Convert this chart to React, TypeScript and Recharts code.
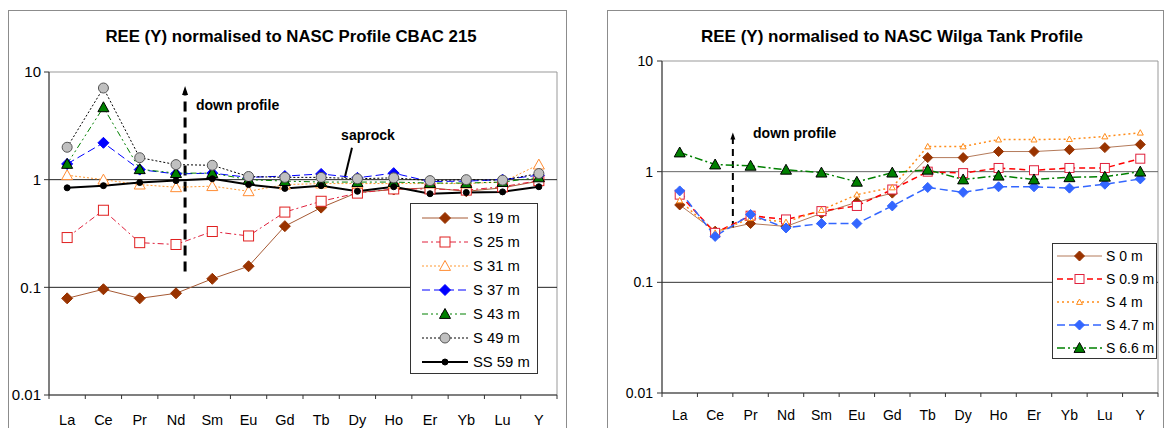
import React from "react";
import {
  LineChart,
  Line,
  XAxis,
  YAxis,
  ReferenceLine,
  ReferenceDot,
  ReferenceArea,
  Legend,
} from "recharts";

const elements = ["La", "Ce", "Pr", "Nd", "Sm", "Eu", "Gd", "Tb", "Dy", "Ho", "Er", "Yb", "Lu", "Y"];

// CBAC 215 profile, NASC normalised
const cbacS19 = [0.079, 0.096, 0.079, 0.088, 0.12, 0.157, 0.37, 0.55, 0.76, 0.81, 0.84, 0.78, 0.84, 0.97];
const cbacS25 = [0.29, 0.52, 0.26, 0.25, 0.33, 0.3, 0.5, 0.63, 0.75, 0.82, 0.82, 0.8, 0.86, 0.98];
const cbacS31 = [1.1, 1.0, 0.9, 0.85, 0.87, 0.78, 0.9, 0.92, 0.92, 0.92, 0.92, 0.92, 0.95, 1.38];
const cbacS37 = [1.4, 2.2, 1.24, 1.13, 1.15, 1.05, 1.08, 1.13, 1.04, 1.15, 0.96, 0.97, 1.0, 1.1];
const cbacS43 = [1.4, 4.7, 1.25, 1.15, 1.15, 1.0, 0.97, 0.95, 0.95, 0.95, 0.93, 0.93, 0.95, 1.05];
const cbacS49 = [2.0, 7.1, 1.6, 1.38, 1.36, 1.07, 1.05, 1.05, 1.02, 1.04, 0.98, 1.0, 0.99, 1.14];
const cbacSS59 = [0.84, 0.88, 0.94, 0.98, 1.02, 0.9, 0.83, 0.88, 0.78, 0.86, 0.74, 0.76, 0.77, 0.86];

// Wilga Tank profile, NASC normalised
const wilgaS0 = [0.5, 0.29, 0.34, 0.32, 0.42, 0.53, 0.64, 1.34, 1.34, 1.52, 1.52, 1.58, 1.65, 1.76];
const wilgaS09 = [0.62, 0.28, 0.4, 0.37, 0.44, 0.49, 0.69, 1.0, 0.97, 1.08, 1.03, 1.08, 1.08, 1.31];
const wilgaS4 = [0.55, 0.28, 0.38, 0.35, 0.45, 0.62, 0.72, 1.69, 1.69, 1.95, 1.95, 1.97, 2.08, 2.25];
const wilgaS47 = [0.67, 0.26, 0.41, 0.31, 0.34, 0.34, 0.49, 0.72, 0.65, 0.73, 0.73, 0.71, 0.77, 0.86];
const wilgaS66 = [1.49, 1.16, 1.13, 1.04, 0.98, 0.81, 0.98, 1.04, 0.85, 0.92, 0.85, 0.89, 0.9, 1.0];

const yTicks = [0.01, 0.1, 1, 10];
const xBounds = elements.map((_, i) => i).concat(elements.length);

type MarkerKind = "diamond" | "square" | "triangle" | "circle";

type Series = {
  key: string;
  name: string;
  values: number[];
  line: string;
  width: number;
  dash?: string;
  marker: MarkerKind;
  size: number;
  fill: string;
  stroke: string;
};

const cbacSeries: Series[] = [
  { key: "s19", name: "S 19 m", values: cbacS19, line: "#a65a35", width: 1, marker: "diamond", size: 11, fill: "#993300", stroke: "#993300" },
  { key: "s25", name: "S 25 m", values: cbacS25, line: "#e0203c", width: 1, dash: "6 3 2 3", marker: "square", size: 10, fill: "#fff", stroke: "#e02020" },
  { key: "s31", name: "S 31 m", values: cbacS31, line: "#ff9933", width: 1, dash: "2 2", marker: "triangle", size: 11, fill: "#fff", stroke: "#ff8c33" },
  { key: "s37", name: "S 37 m", values: cbacS37, line: "#0000ff", width: 1, dash: "8 4", marker: "diamond", size: 11, fill: "#0000ff", stroke: "#0000ff" },
  { key: "s43", name: "S 43 m", values: cbacS43, line: "#008000", width: 1, dash: "6 3 2 3 2 3", marker: "triangle", size: 11, fill: "#008000", stroke: "#000" },
  { key: "s49", name: "S 49 m", values: cbacS49, line: "#000", width: 1, dash: "2 2", marker: "circle", size: 10, fill: "#c0c0c0", stroke: "#555" },
  { key: "ss59", name: "SS 59 m", values: cbacSS59, line: "#000", width: 2, marker: "circle", size: 6, fill: "#000", stroke: "#000" },
];

const wilgaSeries: Series[] = [
  { key: "w0", name: "S 0 m", values: wilgaS0, line: "#b47a5a", width: 1, marker: "diamond", size: 10, fill: "#993300", stroke: "#993300" },
  { key: "w09", name: "S 0.9 m", values: wilgaS09, line: "#ff0000", width: 1.5, dash: "6 4", marker: "square", size: 9, fill: "#fff", stroke: "#e0203c" },
  { key: "w4", name: "S 4 m", values: wilgaS4, line: "#ff8c1a", width: 1.5, dash: "2 3", marker: "triangle", size: 6, fill: "#fff", stroke: "#ff8c1a" },
  { key: "w47", name: "S 4.7 m", values: wilgaS47, line: "#3366ff", width: 1.5, dash: "8 4", marker: "diamond", size: 10, fill: "#3366ff", stroke: "#3366ff" },
  { key: "w66", name: "S 6.6 m", values: wilgaS66, line: "#008000", width: 1.5, dash: "8 3 2 3", marker: "triangle", size: 11, fill: "#008000", stroke: "#000" },
];

function buildRows(series: Series[]) {
  return elements.map((el, i) => {
    const row: Record<string, number | string> = { x: i + 0.5, el };
    series.forEach((s) => {
      row[s.key] = s.values[i];
    });
    return row;
  });
}

const cbacRows = buildRows(cbacSeries);
const wilgaRows = buildRows(wilgaSeries);

function Marker({ kind, cx, cy, size, fill, stroke }: { kind: MarkerKind; cx: number; cy: number; size: number; fill: string; stroke: string }) {
  const h = size / 2;
  if (kind === "diamond")
    return <polygon points={`${cx},${cy - h} ${cx + h},${cy} ${cx},${cy + h} ${cx - h},${cy}`} fill={fill} stroke={stroke} strokeWidth={1} />;
  if (kind === "square")
    return <rect x={cx - h} y={cy - h} width={size} height={size} fill={fill} stroke={stroke} strokeWidth={1} />;
  if (kind === "triangle")
    return <polygon points={`${cx},${cy - h} ${cx + h},${cy + h * 0.8} ${cx - h},${cy + h * 0.8}`} fill={fill} stroke={stroke} strokeWidth={1} />;
  return <circle cx={cx} cy={cy} r={h} fill={fill} stroke={stroke} strokeWidth={1} />;
}

const dotFor = (s: Series) => (p: any) => (
  <Marker key={`${s.key}-${p.index}`} kind={s.marker} cx={p.cx} cy={p.cy} size={s.size} fill={s.fill} stroke={s.stroke} />
);

function xTick(step: number, dy: number, size: number) {
  return (props: any) => {
    const { x, y, payload } = props;
    const v = payload.value as number;
    return (
      <g>
        <line x1={x} y1={y} x2={x} y2={y + 4} stroke="#333" />
        {v < elements.length && (
          <text x={x + step / 2} y={y + dy} textAnchor="middle" fontSize={size} fill="#000">
            {elements[v]}
          </text>
        )}
      </g>
    );
  };
}

function legendBox(series: Series[], w: number, h: number, first: number, gap: number, x0: number, x1: number, textX: number, fontSize: number) {
  return () => (
    <svg width={w} height={h} style={{ display: "block" }}>
      <rect x={0.5} y={0.5} width={w - 1} height={h - 1} fill="#fff" stroke="#333" />
      {series.map((s, i) => {
        const cy = first + i * gap;
        return (
          <g key={s.key}>
            <line x1={x0} y1={cy} x2={x1} y2={cy} stroke={s.line} strokeWidth={s.width} strokeDasharray={s.dash} />
            <Marker kind={s.marker} cx={(x0 + x1) / 2} cy={cy} size={s.size} fill={s.fill} stroke={s.stroke} />
            <text x={textX} y={cy + 5} fontSize={fontSize} fill="#000">
              {s.name}
            </text>
          </g>
        );
      })}
    </svg>
  );
}

const arrowUp = (half: number, len: number) => (p: any) =>
  <polygon points={`${p.cx},${p.cy} ${p.cx + half},${p.cy + len} ${p.cx - half},${p.cy + len}`} fill="#000" />;

const note = (label: string, anchor: "start" | "middle") => (p: any) =>
  (
    <text x={p.cx} y={p.cy} dy="0.35em" textAnchor={anchor} fontSize={14} fontWeight="bold" fill="#000">
      {label}
    </text>
  );

function CbacChart() {
  const step = 508 / 14;
  return (
    <LineChart width={570} height={428} data={cbacRows} margin={{ top: 72, right: 13, bottom: 0, left: 8 }}>
      <ReferenceArea x1={0} x2={14} y1={0.01} y2={10} fill="none" stroke="#999" strokeWidth={1} />
      <ReferenceLine y={1} stroke="#222" />
      <ReferenceLine y={0.1} stroke="#222" />
      <XAxis
        type="number"
        dataKey="x"
        domain={[0, 14]}
        ticks={xBounds}
        interval={0}
        tickSize={0}
        tickMargin={0}
        height={33}
        axisLine={{ stroke: "#333" }}
        tick={xTick(step, 30, 14.5)}
      />
      <YAxis
        scale="log"
        domain={[0.01, 10]}
        ticks={yTicks}
        interval={0}
        allowDataOverflow
        width={41}
        tickSize={5}
        tickMargin={3}
        axisLine={{ stroke: "#333" }}
        tickLine={{ stroke: "#333" }}
        tick={{ fontSize: 15, fill: "#000" }}
        tickFormatter={(v: number) => String(v)}
      />
      <ReferenceLine segment={[{ x: 3.75, y: 0.14 }, { x: 3.75, y: 6.6 }]} stroke="#000" strokeWidth={3} strokeDasharray="10 6" />
      <ReferenceDot x={3.75} y={7.4} shape={arrowUp(3, 9)} />
      <ReferenceDot x={4.05} y={4.95} shape={note("down profile", "start")} />
      <ReferenceDot x={8.79} y={2.61} shape={note("saprock", "middle")} />
      <ReferenceLine segment={[{ x: 8.35, y: 1.98 }, { x: 8.15, y: 1.04 }]} stroke="#000" strokeWidth={2} />
      {cbacSeries.map((s) => (
        <Line
          key={s.key}
          type="linear"
          dataKey={s.key}
          name={s.name}
          stroke={s.line}
          strokeWidth={s.width}
          strokeDasharray={s.dash}
          dot={dotFor(s)}
          activeDot={false}
          isAnimationActive={false}
        />
      ))}
      <Legend
        layout="horizontal"
        verticalAlign="middle"
        align="center"
        wrapperStyle={{ left: 410, top: 203, width: 128, height: 171 }}
        content={legendBox(cbacSeries, 128, 171, 15, 24, 12, 58, 63, 14.8)}
      />
    </LineChart>
  );
}

function WilgaChart() {
  const step = 496 / 14;
  return (
    <LineChart width={565} height={428} data={wilgaRows} margin={{ top: 61, right: 7, bottom: 0, left: 17 }}>
      <ReferenceArea x1={0} x2={14} y1={0.01} y2={10} fill="none" stroke="#999" strokeWidth={1} />
      <ReferenceLine y={1} stroke="#666" />
      <ReferenceLine y={0.1} stroke="#333" />
      <XAxis
        type="number"
        dataKey="x"
        domain={[0, 14]}
        ticks={xBounds}
        interval={0}
        tickSize={0}
        tickMargin={0}
        height={35}
        axisLine={{ stroke: "#333" }}
        tick={xTick(step, 27, 14)}
      />
      <YAxis
        scale="log"
        domain={[0.01, 10]}
        ticks={yTicks}
        interval={0}
        allowDataOverflow
        width={45}
        tickSize={5}
        tickMargin={4}
        axisLine={{ stroke: "#333" }}
        tickLine={{ stroke: "#333" }}
        tick={{ fontSize: 14, fill: "#000" }}
        tickFormatter={(v: number) => String(v)}
      />
      <ReferenceLine segment={[{ x: 2, y: 0.31 }, { x: 2, y: 2.0 }]} stroke="#000" strokeWidth={2} strokeDasharray="7 5" />
      <ReferenceDot x={2} y={2.26} shape={arrowUp(2.5, 7)} />
      <ReferenceDot x={2.57} y={2.21} shape={note("down profile", "start")} />
      {wilgaSeries.map((s) => (
        <Line
          key={s.key}
          type="linear"
          dataKey={s.key}
          name={s.name}
          stroke={s.line}
          strokeWidth={s.width}
          strokeDasharray={s.dash}
          dot={dotFor(s)}
          activeDot={false}
          isAnimationActive={false}
        />
      ))}
      <Legend
        layout="horizontal"
        verticalAlign="middle"
        align="center"
        wrapperStyle={{ left: 452, top: 243, width: 105, height: 116 }}
        content={legendBox(wilgaSeries, 105, 116, 13, 23, 5, 50, 54, 14)}
      />
    </LineChart>
  );
}

export default function App() {
  return (
    <div
      style={{
        position: "absolute",
        left: 0,
        top: 0,
        width: 1165,
        height: 428,
        overflow: "hidden",
        background: "#fff",
        fontFamily: "'Liberation Sans', Arial, sans-serif",
      }}
    >
      <div style={{ position: "absolute", left: 8, top: 10, width: 559, height: 440, border: "1px solid #8c8c8c", boxSizing: "border-box" }} />
      <div style={{ position: "absolute", left: 607, top: 10, width: 557, height: 440, border: "1px solid #8c8c8c", boxSizing: "border-box" }} />
      <div style={{ position: "absolute", left: 0, top: 27, width: 582, textAlign: "center", fontSize: 16.8, fontWeight: "bold" }}>
        REE (Y) normalised to NASC Profile CBAC 215
      </div>
      <div style={{ position: "absolute", left: 600, top: 27, width: 584, textAlign: "center", fontSize: 17, fontWeight: "bold" }}>
        REE (Y) normalised to NASC Wilga Tank Profile
      </div>
      <div style={{ position: "absolute", left: 0, top: 0 }}>
        <CbacChart />
      </div>
      <div style={{ position: "absolute", left: 600, top: 0 }}>
        <WilgaChart />
      </div>
    </div>
  );
}
